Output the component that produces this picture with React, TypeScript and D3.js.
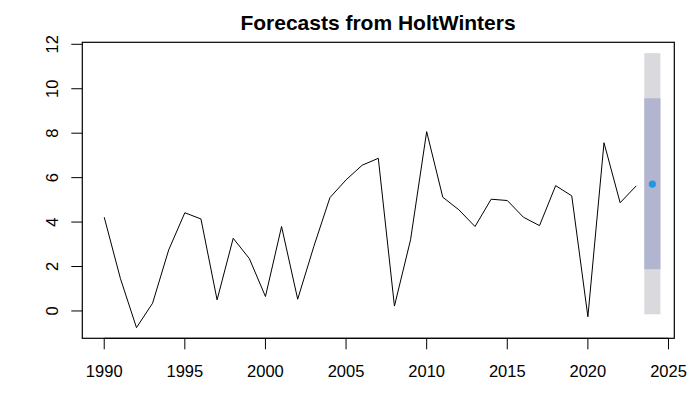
import React from "react";
import * as d3 from "d3";

const years = d3.range(1990, 2024);
const values = [4.22, 1.47, -0.75, 0.35, 2.75, 4.42, 4.14, 0.5, 3.27, 2.36, 0.65, 3.8, 0.53, 2.9, 5.1, 5.9, 6.56, 6.87, 0.22, 3.2, 8.07, 5.12, 4.55, 3.8, 5.03, 4.97, 4.22, 3.84, 5.64, 5.18, -0.26, 7.57, 4.87, 5.63];
const forecastYear = [2024];
const forecastMean = [5.71];
const lo80 = [1.88];
const hi80 = [9.57];
const lo95 = [-0.15];
const hi95 = [11.6];
const xTicks = [1990, 1995, 2000, 2005, 2010, 2015, 2020, 2025];
const yTicks = [0, 2, 4, 6, 8, 10, 12];

export default function App() {
  const W = 698, H = 415;
  const left = 82.3, right = 674.3, top = 42.3, bottom = 338.3;
  const x = d3.scaleLinear().domain([1988.64, 2025.36]).range([left, right]);
  const y = d3.scaleLinear().domain([-1.23, 12.09]).range([bottom, top]);
  const line = d3.line<number>().x((_, i) => x(years[i])).y((d) => y(d));
  const font = "Liberation Sans, Arial, sans-serif";
  return (
    <svg width={W} height={H} style={{ position: "absolute", left: 0, top: 0, background: "#fff" }}>
      <rect x={0} y={0} width={W} height={H} fill="#fff" />
      <text x={378} y={29.5} textAnchor="middle" fontFamily={font} fontWeight="bold" fontSize={21} fill="#000">
        Forecasts from HoltWinters
      </text>
      {forecastYear.map((fy, i) => (
        <g key={fy}>
          <rect x={x(fy - 0.5)} y={y(hi95[i])} width={x(fy + 0.5) - x(fy - 0.5)} height={y(lo95[i]) - y(hi95[i])} fill="#DADADE" />
          <rect x={x(fy - 0.5)} y={y(hi80[i])} width={x(fy + 0.5) - x(fy - 0.5)} height={y(lo80[i]) - y(hi80[i])} fill="#B1B5CF" />
          <circle cx={x(fy)} cy={y(forecastMean[i])} r={3.6} fill="#2297E6" />
        </g>
      ))}
      <path d={line(values) || ""} fill="none" stroke="#000" strokeWidth={1} />
      <rect x={left} y={top} width={right - left} height={bottom - top} fill="none" stroke="#000" strokeWidth={1.2} />
      <line x1={x(1990)} x2={x(2025)} y1={bottom} y2={bottom} stroke="#000" />
      {xTicks.map((t) => (
        <g key={t}>
          <line x1={x(t)} x2={x(t)} y1={bottom} y2={bottom + 11} stroke="#000" strokeWidth={1} />
          <text x={x(t)} y={bottom + 39} textAnchor="middle" fontFamily={font} fontSize={16.5} fill="#000">{t}</text>
        </g>
      ))}
      {yTicks.map((t) => (
        <g key={t}>
          <line x1={left - 11} x2={left} y1={y(t)} y2={y(t)} stroke="#000" strokeWidth={1} />
          <text transform={`translate(${left - 24},${y(t)}) rotate(-90)`} textAnchor="middle" fontFamily={font} fontSize={16.5} fill="#000">{t}</text>
        </g>
      ))}
    </svg>
  );
}
